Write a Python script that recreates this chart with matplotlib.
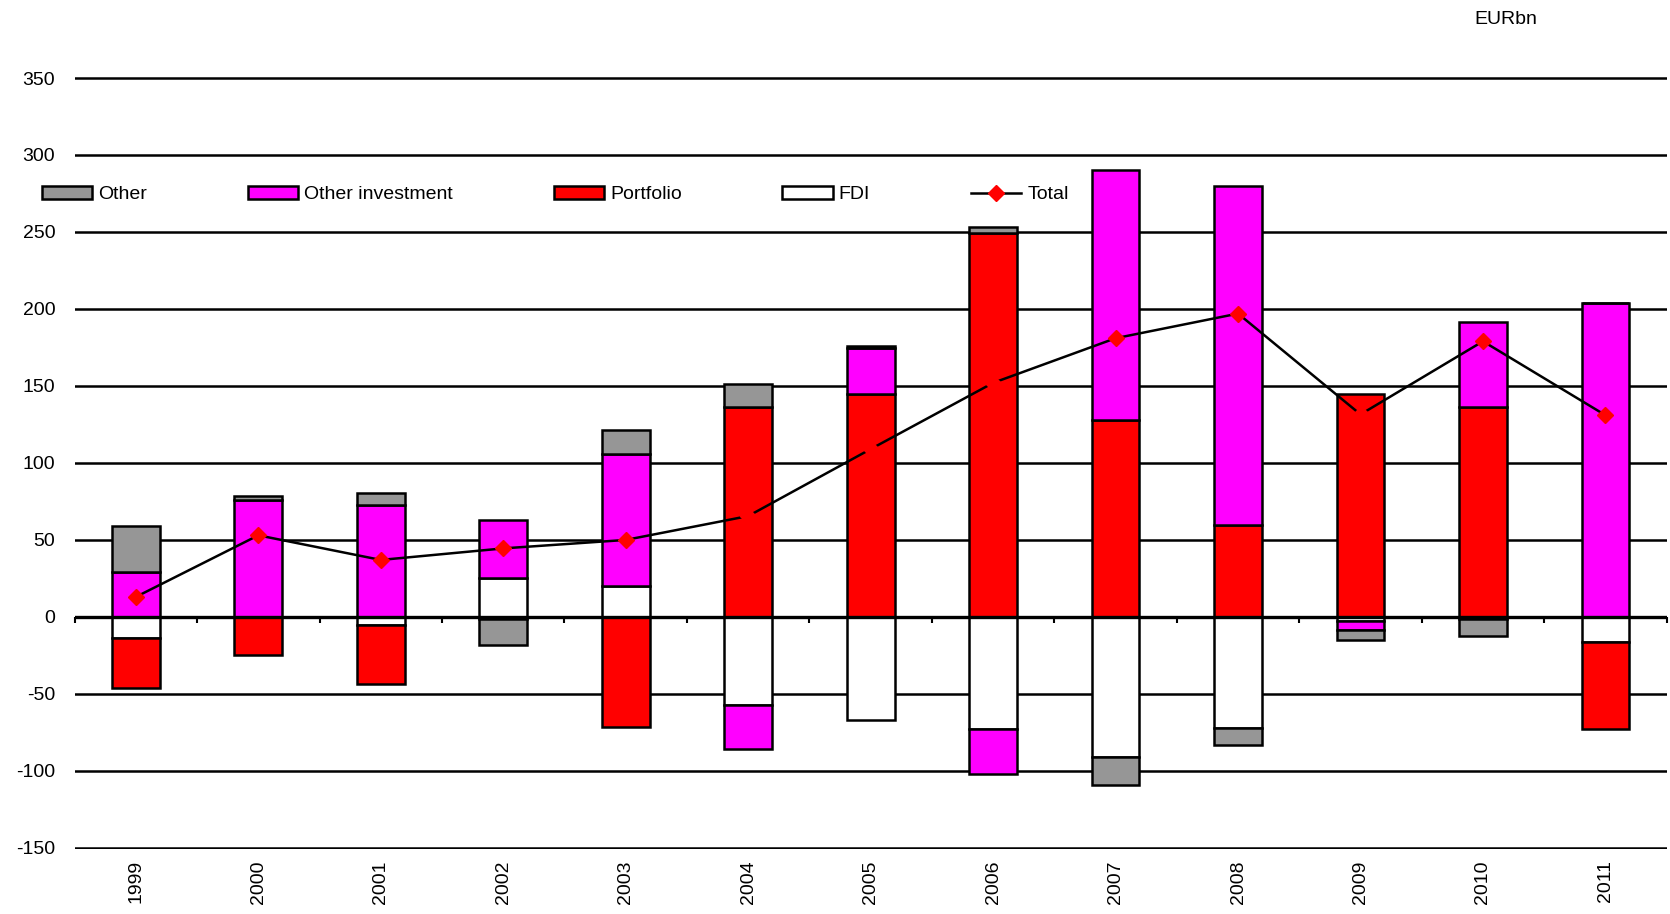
import numpy as np
import matplotlib
matplotlib.use("Agg")
import matplotlib.pyplot as plt

years = ['1999', '2000', '2001', '2002', '2003', '2004', '2005',
         '2006', '2007', '2008', '2009', '2010', '2011']
fdi = [-14, 0, -5, 25, 20, -57, -67, -73, -91, -72, -2.5, -1.5, -16]
portfolio = [-32, -25, -38.5, -1.5, -71.5, 136.5, 145, 249.5, 128, 60, 145, 136.5, -57]
other_inv = [29, 76, 73, 38, 85.5, -29, 29.5, -29, 162, 220, -6, 55, 204]
other = [30, 2.5, 7.5, -16.5, 16, 15, 1.5, 4, -18, -11, -6.5, -11, 0]
total = [13, 53, 37, 44.5, 50, 65.5, 109, 152, 181, 197, 131.5, 179, 131]

plt.rcParams['font.family'] = ['Liberation Sans', 'DejaVu Sans']
plt.rcParams['font.size'] = 14
plt.rcParams['axes.unicode_minus'] = False

fig = plt.figure(figsize=(16.7, 9.14), dpi=100)
ax = fig.add_axes([0.0447, 0.071, 0.9533, 0.845])

x = np.arange(len(years))
w = 0.39
series = [(fdi, 'white', 'FDI'), (portfolio, '#ff0000', 'Portfolio'),
          (other_inv, '#ff00ff', 'Other investment'), (other, '#969696', 'Other')]

pos_base = np.zeros(len(years))
neg_base = np.zeros(len(years))
handles = {}
for vals, col, name in series:
    v = np.array(vals, dtype=float)
    bottom = np.where(v >= 0, pos_base, neg_base)
    b = ax.bar(x, v, w, bottom=bottom, color=col, edgecolor='black',
               linewidth=1.8, zorder=2)
    handles[name] = b
    pos_base += np.where(v >= 0, v, 0)
    neg_base += np.where(v < 0, v, 0)

ln, = ax.plot(x, total, color='black', linewidth=1.8, marker='D',
              markersize=8.5, markerfacecolor='#ff0000',
              markeredgecolor='#ff0000', zorder=5)

ax.axhline(0, color='black', linewidth=2.4, zorder=3)

ax.set_xlim(-0.5, len(years) - 0.5)
ax.set_ylim(-150.8, 350.8)
ax.set_yticks(np.arange(-150, 351, 50))
ax.yaxis.grid(True, color='black', linewidth=1.8)
ax.set_axisbelow(True)
ax.tick_params(axis='y', length=0, pad=14, labelsize=14)
ax.set_xticks(x)
ax.set_xticklabels(years, rotation=90, va='top')
ax.tick_params(axis='x', length=0, pad=8, labelsize=14)
for s in ax.spines.values():
    s.set_visible(False)

# little category ticks on the zero line
sec = ax.secondary_xaxis(150.8 / 501.6)
sec.set_xticks(np.arange(-0.5, len(years), 1.0))
sec.set_xticklabels([])
sec.tick_params(direction='out', length=4.5, width=1.5, color='black')
sec.spines['bottom'].set_visible(False)

order = ['Other', 'Other investment', 'Portfolio', 'FDI']
leg = fig.legend([handles[n] for n in order] + [ln], order + ['Total'],
                 loc='center left', bbox_to_anchor=(0.025, 0.787), ncol=5,
                 frameon=False, borderpad=0, borderaxespad=0,
                 handlelength=2.6, handleheight=0.6, handletextpad=0.3,
                 columnspacing=5.18, fontsize=14)

fig.text(0.883, 0.979, 'EURbn', ha='left', va='center', fontsize=14)

fig.savefig('out.png', dpi=100)
